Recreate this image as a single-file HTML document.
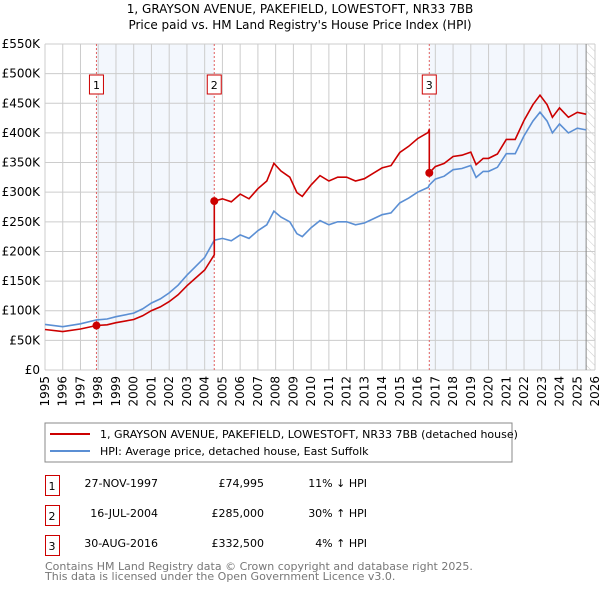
<!DOCTYPE html>
<html><head><meta charset="utf-8"><style>
body{margin:0;background:#fff;font-family:"DejaVu Sans","Liberation Sans",sans-serif;}
svg text{font-family:"DejaVu Sans","Liberation Sans",sans-serif;}
</style></head><body>
<svg id="c" width="600" height="590" xmlns="http://www.w3.org/2000/svg">
<defs><pattern id="hatch" width="6" height="6" patternUnits="userSpaceOnUse" patternTransform="rotate(-45)"><line x1="0" y1="0" x2="0" y2="6" stroke="#ccc" stroke-width="1"/></pattern></defs>
<text x="300" y="13" text-anchor="middle" font-size="12">1, GRAYSON AVENUE, PAKEFIELD, LOWESTOFT, NR33 7BB</text>
<text x="300" y="29" text-anchor="middle" font-size="12">Price paid vs. HM Land Registry's House Price Index (HPI)</text>
<g id="plot"></g>
<rect x="45" y="423" width="467" height="39" fill="#fff" stroke="#888"/>
<line x1="50" y1="434" x2="90" y2="434" stroke="#cc0000" stroke-width="2"/>
<text x="100" y="438" font-size="11">1, GRAYSON AVENUE, PAKEFIELD, LOWESTOFT, NR33 7BB (detached house)</text>
<line x1="50" y1="451" x2="90" y2="451" stroke="#5b8fd4" stroke-width="2"/>
<text x="100" y="455" font-size="11">HPI: Average price, detached house, East Suffolk</text>
<g font-size="11">
<rect x="45.5" y="475.5" width="14" height="20" fill="none" stroke="#cc0000"/><text x="52" y="490" text-anchor="middle">1</text>
<text x="158" y="487" text-anchor="end">27-NOV-1997</text><text x="264" y="487" text-anchor="end">£74,995</text><text x="367" y="487" text-anchor="end">11% ↓ HPI</text>
<rect x="45.5" y="505.5" width="14" height="20" fill="none" stroke="#cc0000"/><text x="52" y="520" text-anchor="middle">2</text>
<text x="158" y="517" text-anchor="end">16-JUL-2004</text><text x="264" y="517" text-anchor="end">£285,000</text><text x="367" y="517" text-anchor="end">30% ↑ HPI</text>
<rect x="45.5" y="535.5" width="14" height="20" fill="none" stroke="#cc0000"/><text x="52" y="550" text-anchor="middle">3</text>
<text x="158" y="547" text-anchor="end">30-AUG-2016</text><text x="264" y="547" text-anchor="end">£332,500</text><text x="367" y="547" text-anchor="end">4% ↑ HPI</text>
</g>
<text x="45" y="570" font-size="11" fill="#777">Contains HM Land Registry data © Crown copyright and database right 2025.</text>
<text x="45" y="580" font-size="11" fill="#777">This data is licensed under the Open Government Licence v3.0.</text>
</svg>
<script>
const hpiYears=[1995,1996,1997,1997.9,1998.5,1999,2000,2000.5,2001,2001.5,2002,2002.5,2003,2003.5,2004,2004.54,2005,2005.5,2006,2006.5,2007,2007.5,2007.9,2008.3,2008.8,2009.2,2009.5,2010,2010.5,2011,2011.5,2012,2012.5,2013,2013.5,2014,2014.5,2015,2015.5,2016,2016.6,2016.66,2017,2017.5,2018,2018.5,2019,2019.3,2019.7,2020,2020.5,2021,2021.5,2022,2022.5,2022.9,2023.3,2023.6,2024,2024.5,2025,2025.5];
const hpiValues=[77,73,78,84.5,86,90,96,103,113,120,130,143,160,175,190,219,222,218,228,222,235,245,268,258,250,230,225,240,252,245,250,250,245,248,255,262,265,282,290,300,308,312,322,327,338,340,345,325,335,335,342,365,365,395,420,435,420,400,415,400,408,405];
const saleYears=[1997.9,2004.54,2016.66];
const salePrices=[74.995,285,332.5];
const saleLabels=["1","2","3"];
const yTicks=[0,50,100,150,200,250,300,350,400,450,500,550];
const xTicks=[1995,1996,1997,1998,1999,2000,2001,2002,2003,2004,2005,2006,2007,2008,2009,2010,2011,2012,2013,2014,2015,2016,2017,2018,2019,2020,2021,2022,2023,2024,2025,2026];
const X0=45,X1=595,Y0=370,Y1=44;
const xs=t=>X0+(t-1995)/(2026-1995)*(X1-X0);
const ys=v=>Y0-v/550*(Y0-Y1);
const ns="http://www.w3.org/2000/svg";
const g=document.getElementById('plot');
function mk(tag,at){const e=document.createElementNS(ns,tag);for(const k in at)e.setAttribute(k,at[k]);g.appendChild(e);return e;}
function hpiAt(t){for(let i=0;i<hpiYears.length-1;i++){if(t<=hpiYears[i+1]){const f=(t-hpiYears[i])/(hpiYears[i+1]-hpiYears[i]);return hpiValues[i]+f*(hpiValues[i+1]-hpiValues[i]);}}return hpiValues[hpiValues.length-1];}
let r=mk('rect',{x:xs(saleYears[0]),y:Y1,width:xs(saleYears[1])-xs(saleYears[0]),height:Y0-Y1,fill:'#eef3fc',opacity:0.7});


r=mk('rect',{x:xs(saleYears[2]),y:Y1,width:xs(2025.5)-xs(saleYears[2]),height:Y0-Y1,fill:'#eef3fc',opacity:0.7});


r=mk('rect',{x:xs(2025.5),y:Y1,width:X1-xs(2025.5),height:Y0-Y1,fill:'url(#hatch)'});


yTicks.forEach(v=>{const l=mk('line',{x1:X0,x2:X1,y1:ys(v),y2:ys(v),stroke:'#ccc'});


const t=mk('text',{x:40,y:ys(v)+4,'text-anchor':'end','font-size':12});t.textContent='£'+(v===0?'0':v+'K');

});
xTicks.forEach(y=>{const l=mk('line',{x1:xs(y),x2:xs(y),y1:Y1,y2:Y0,stroke:'#ccc'});


const t=mk('text',{x:0,y:0,'text-anchor':'end','font-size':12,transform:`translate(${xs(y)+4},${Y0+6}) rotate(-90)`});t.textContent=y;

});
let bl=mk('line',{x1:xs(2025.5),x2:xs(2025.5),y1:Y1,y2:Y0,stroke:'#888'});


saleYears.forEach((s,i)=>{const l=mk('line',{x1:xs(s),x2:xs(s),y1:Y1,y2:Y0,stroke:'#e06060','stroke-dasharray':'2,2'});


const b=mk('rect',{x:xs(s)-7,y:75,width:14,height:19,fill:'#fff',stroke:'#cc0000'});


const t=mk('text',{x:xs(s),y:89,'text-anchor':'middle','font-size':11});t.textContent=saleLabels[i];

});
let p=hpiYears.map((t,i)=>(i?'L':'M')+xs(t).toFixed(1)+','+ys(hpiValues[i]).toFixed(1)).join('');
let hl=mk('path',{d:p,fill:'none',stroke:'#5b8fd4','stroke-width':1.6});


function ratio(k){return salePrices[k]/hpiAt(saleYears[k]);}
let pts=[];
hpiYears.forEach((t,i)=>{let k=0;for(let j=0;j<saleYears.length;j++)if(t>=saleYears[j])k=j;pts.push([t,hpiValues[i]*ratio(k)]);});
saleYears.forEach((s,k)=>{if(k>0)pts.push([s-1e-6,hpiAt(s)*ratio(k-1)]);pts.push([s,salePrices[k]]);});
pts.sort((a,b)=>a[0]-b[0]);
p=pts.map((q,i)=>(i?'L':'M')+xs(q[0]).toFixed(1)+','+ys(q[1]).toFixed(1)).join('');
let pl=mk('path',{d:p,fill:'none',stroke:'#cc0000','stroke-width':1.6});


saleYears.forEach((s,k)=>{const c=mk('circle',{cx:xs(s),cy:ys(salePrices[k]),r:4,fill:'#cc0000'});

});
</script>
</body></html>
